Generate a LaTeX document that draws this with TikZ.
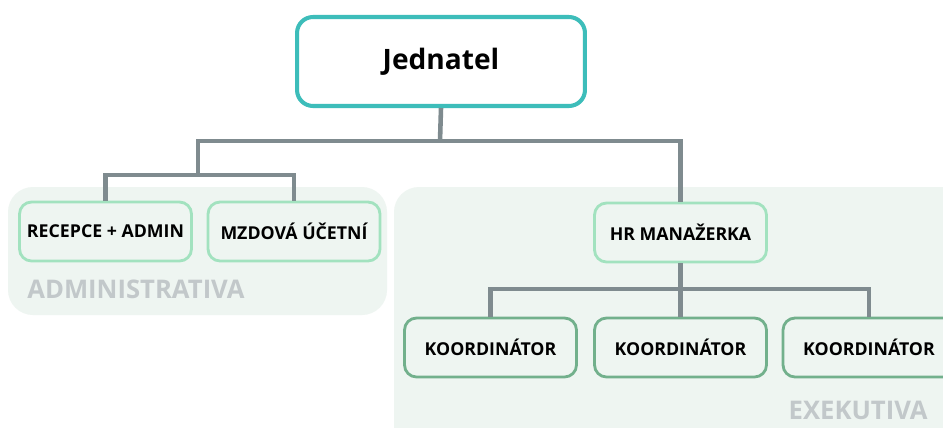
\documentclass[tikz,border=0pt]{standalone}
\usepackage{fontspec}
\setmainfont{Open Sans}
\usepackage{xcolor}
\usepackage{tikz}
\usetikzlibrary{positioning}

\definecolor{teal1}{HTML}{3DBDBA}
\definecolor{mint1}{HTML}{A2E2BF}
\definecolor{leafgreen}{HTML}{72B08C}
\definecolor{groupfill}{HTML}{EEF5F1}
\definecolor{linegray}{HTML}{7F8B8F}
\definecolor{labelgray}{HTML}{C2C8CA}

\begin{document}
\begin{tikzpicture}[x=0.02cm, y=-0.02cm,
	topbox/.style={draw=teal1, line width=2.3pt, fill=white, rounded corners=0.32cm, minimum width=5.76cm, minimum height=1.78cm, inner sep=0, align=center, font=\fontsize{16}{18}\selectfont\bfseries},
	midbox/.style={draw=mint1, line width=1.6pt, fill=groupfill, rounded corners=0.24cm, minimum width=3.44cm, minimum height=1.18cm, inner sep=0, align=center, font=\fontsize{10.1}{12}\selectfont\bfseries},
	leafbox/.style={midbox, draw=leafgreen},
	group/.style={fill=groupfill, rounded corners=0.5cm},
	grouplabel/.style={text=labelgray, inner sep=0, font=\fontsize{14.6}{16}\selectfont\bfseries},
	link/.style={draw=linegray, line width=2.6pt}
]
\clip (0,0) rectangle (943,427);
\fill[white] (0,0) rectangle (943,427);

% groups
\fill[group] (8,187) rectangle (387,315);
\fill[group] (394,187) rectangle (1000,480);

\node[topbox] (jed) at (441,61.5) {Jednatel};

\node[midbox] (rec) at (105.5,231.5) {RECEPCE + ADMIN};
\node[midbox] (mzd) at (294,231.5) {MZDOVÁ ÚČETNÍ};
\node[midbox] (hr) at (680.5,232.5) {HR MANAŽERKA};

\node[leafbox] (k1) at (490.5,347.5) {KOORDINÁTOR};
\node[leafbox] (k2) at (680.5,347.5) {KOORDINÁTOR};
\node[leafbox] (k3) at (869,347.5) {KOORDINÁTOR};

\node[grouplabel, anchor=west] (admlabel) at (27,289) {ADMINISTRATIVA};
\node[grouplabel, anchor=east] (exelabel) at (928,410) {EXEKUTIVA};

% connectors
\coordinate (topbar) at (440,141);
\coordinate (admbar) at (198,175);
\coordinate (hrbar) at (680.5,289);

\draw[link] (jed.south) -- (topbar);
\draw[link] (admbar) |- (topbar) -| (hr.north);
\draw[link] (rec.north) |- (admbar) -| (mzd.north);
\draw[link] (hr.south) -- (hrbar);
\draw[link] (k1.north) |- (hrbar) -| (k3.north);
\draw[link] (hrbar) -- (k2.north);
\end{tikzpicture}
\end{document}
